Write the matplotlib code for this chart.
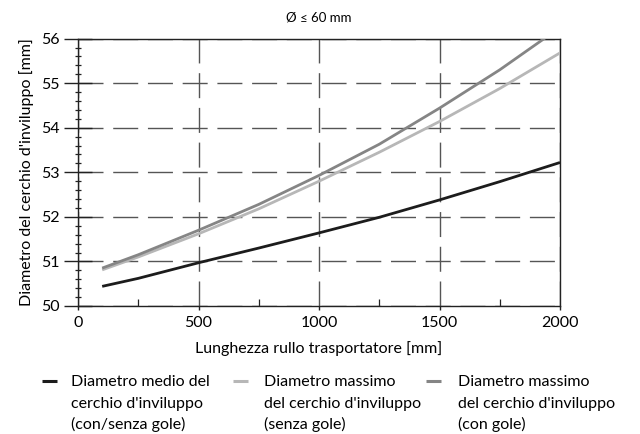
import matplotlib
matplotlib.use("Agg")
import matplotlib.pyplot as plt
from matplotlib.lines import Line2D
from matplotlib.ticker import MultipleLocator

# Conveyor roller length [mm]
lengths = [100, 250, 500, 750, 1000, 1250, 1500, 1750, 2000]

# Envelope circle diameters [mm]
d_mean = [50.44, 50.62, 50.97, 51.30, 51.64, 51.99, 52.38, 52.79, 53.22]
d_max_plain = [50.81, 51.10, 51.62, 52.18, 52.80, 53.45, 54.14, 54.88, 55.68]
d_max_grooved = [50.85, 51.15, 51.70, 52.28, 52.93, 53.63, 54.44, 55.30, 56.25]

series_labels = [
    ["Diametro medio del", "cerchio d'inviluppo", "(con/senza gole)"],
    ["Diametro massimo", "del cerchio d'inviluppo", "(senza gole)"],
    ["Diametro massimo", "del cerchio d'inviluppo", "(con gole)"],
]
series_colors = ["#1c1c1c", "#b7b7b7", "#858585"]

title = "Ø ≤ 60 mm"
xlabel = "Lunghezza rullo trasportatore [mm]"
ylabel = "Diametro del cerchio d'inviluppo [mm]"

plt.rcParams["font.family"] = ["Lato", "DejaVu Sans"]
FS = 11.5
W, H = 640, 434

fig = plt.figure(figsize=(W / 100, H / 100), dpi=100)
ax = fig.add_axes([0.122, 0.295, 0.753, 0.616])

for ys, col in zip([d_mean, d_max_plain, d_max_grooved], series_colors):
    ax.plot(lengths, ys, color=col, lw=2.0, solid_capstyle="butt", zorder=3)

ax.set_xlim(0, 2000)
ax.set_ylim(50, 56)
ax.xaxis.set_major_locator(MultipleLocator(500))
ax.xaxis.set_minor_locator(MultipleLocator(250))
ax.yaxis.set_major_locator(MultipleLocator(1))
ax.yaxis.set_minor_locator(MultipleLocator(0.2))

ax.grid(True, which="major", color="#555555", lw=1.0, linestyle=(0, (18, 7)))

for sp in ax.spines.values():
    sp.set_linewidth(1.0)
    sp.set_color("#222222")

ax.tick_params(axis="y", which="major", direction="inout", length=20, width=1.0,
               labelsize=FS, pad=3.5, color="#222222")
ax.tick_params(axis="y", which="minor", direction="inout", length=5, width=0.9, color="#222222")
ax.tick_params(axis="x", which="major", direction="out", length=3, width=1.0,
               labelsize=FS, pad=4, color="#222222")
ax.tick_params(axis="x", which="minor", direction="in", length=5, width=0.9, color="#222222")

ax.set_title(title, fontsize=9.5, pad=12)
ax.set_xlabel(xlabel, fontsize=FS, labelpad=8)
ax.set_ylabel(ylabel, fontsize=FS, labelpad=5)

# Legend: a short line beside the first line of each three-line entry
handle_x = [42, 233, 426]
text_x = [71, 264, 458]
row_baseline = [386, 408, 429]
handle_y = 381
for hx, tx, col, lines in zip(handle_x, text_x, series_colors, series_labels):
    fig.add_artist(Line2D([hx / W, (hx + 15) / W], [1 - handle_y / H] * 2,
                          color=col, lw=2.2, transform=fig.transFigure,
                          solid_capstyle="butt"))
    for ry, line in zip(row_baseline, lines):
        fig.text(tx / W, 1 - ry / H, line, fontsize=FS, ha="left", va="baseline")

fig.savefig("out.png", dpi=100)
